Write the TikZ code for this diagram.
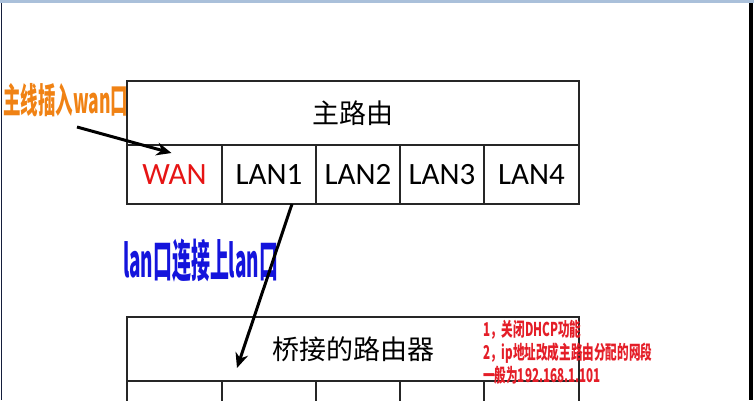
\documentclass[tikz,border=0pt]{standalone}
\usepackage{fontspec}
\setmainfont{Carlito}
\newfontfamily\cjk{Noto Sans CJK SC}
\usetikzlibrary{positioning,arrows.meta}
\definecolor{wanred}{RGB}{230,20,20}
\definecolor{noteorange}{RGB}{240,130,20}
\definecolor{noteblue}{RGB}{20,20,220}
\definecolor{noterred}{RGB}{228,30,40}
\definecolor{framebar}{RGB}{170,192,218}
\definecolor{frameside}{RGB}{20,30,60}
\begin{document}
\begin{tikzpicture}[x=1pt,y=-1pt,
  cell/.style={draw=black!85,line width=1.1pt,inner sep=0pt,outer sep=0pt,
    minimum height=59pt,font=\fontsize{31}{31}\selectfont},
  title/.style={draw=black!85,line width=1.1pt,inner sep=0pt,outer sep=0pt,
    minimum width=452pt,minimum height=64pt,font=\cjk\fontsize{27}{27}\selectfont},
  link/.style={line width=3pt,-{Stealth[length=15pt,width=13pt]}}]
  \useasboundingbox (0,0) rectangle (754,400);
  % window frame
  \fill[framebar] (0,0) rectangle (754,2.5);
  \fill[frameside] (0.5,2.5) rectangle (2.2,400);
  \fill[black] (749,2.5) rectangle (752.5,400);

  % main router
  \node[title,anchor=north west] (main) at (127,81) {主路由};
  \node[cell,minimum width=95pt,anchor=north west,text=wanred] (wan) at (main.south west) {WAN};
  \node[cell,minimum width=94pt,right=0pt of wan] (lan1) {LAN1};
  \node[cell,minimum width=84pt,right=0pt of lan1] (lan2) {LAN2};
  \node[cell,minimum width=84pt,right=0pt of lan2] (lan3) {LAN3};
  \node[cell,minimum width=95pt,right=0pt of lan3] (lan4) {LAN4};

  % bridged router
  \node[title,anchor=north west] (bridge) at (127,317) {桥接的路由器};
  \node[cell,minimum width=95pt,anchor=north west] (bwan) at (bridge.south west) {};
  \node[cell,minimum width=94pt,right=0pt of bwan] (blan1) {};
  \node[cell,minimum width=84pt,right=0pt of blan1] (blan2) {};
  \node[cell,minimum width=84pt,right=0pt of blan2] (blan3) {};
  \node[cell,minimum width=95pt,right=0pt of blan3] (blan4) {};

  % notes
  \node[anchor=west,inner sep=0pt,text=noteorange,font=\cjk\bfseries\fontsize{35}{35}\selectfont]
    (wannote) at (3,100) {\scalebox{0.5}[1]{主线插入wan口}};
  \node[anchor=west,inner sep=0pt,text=noteblue,font=\cjk\bfseries\fontsize{45}{45}\selectfont]
    (lannote) at (123,261) {\scalebox{0.42}[1]{lan口连接上lan口}};
  \node[anchor=north west,inner sep=0pt,text=noterred,font=\cjk\bfseries\fontsize{19}{21.5}\selectfont]
    (dhcpnote) at (483,320) {\scalebox{0.61}[1]{\begin{tabular}{@{}l@{}}1，关闭DHCP功能\\2，ip地址改成主路由分配的网段\\一般为192.168.1.101\end{tabular}}};

  % cables
  \coordinate (wanin) at (77,127);
  \draw[link] (wanin) -- ([xshift=-3pt,yshift=-8pt]wan.north);
  \draw[link] ([xshift=-24pt]lan1.south east) -- ([xshift=15pt,yshift=13pt]blan1.north west);
\end{tikzpicture}
\end{document}
